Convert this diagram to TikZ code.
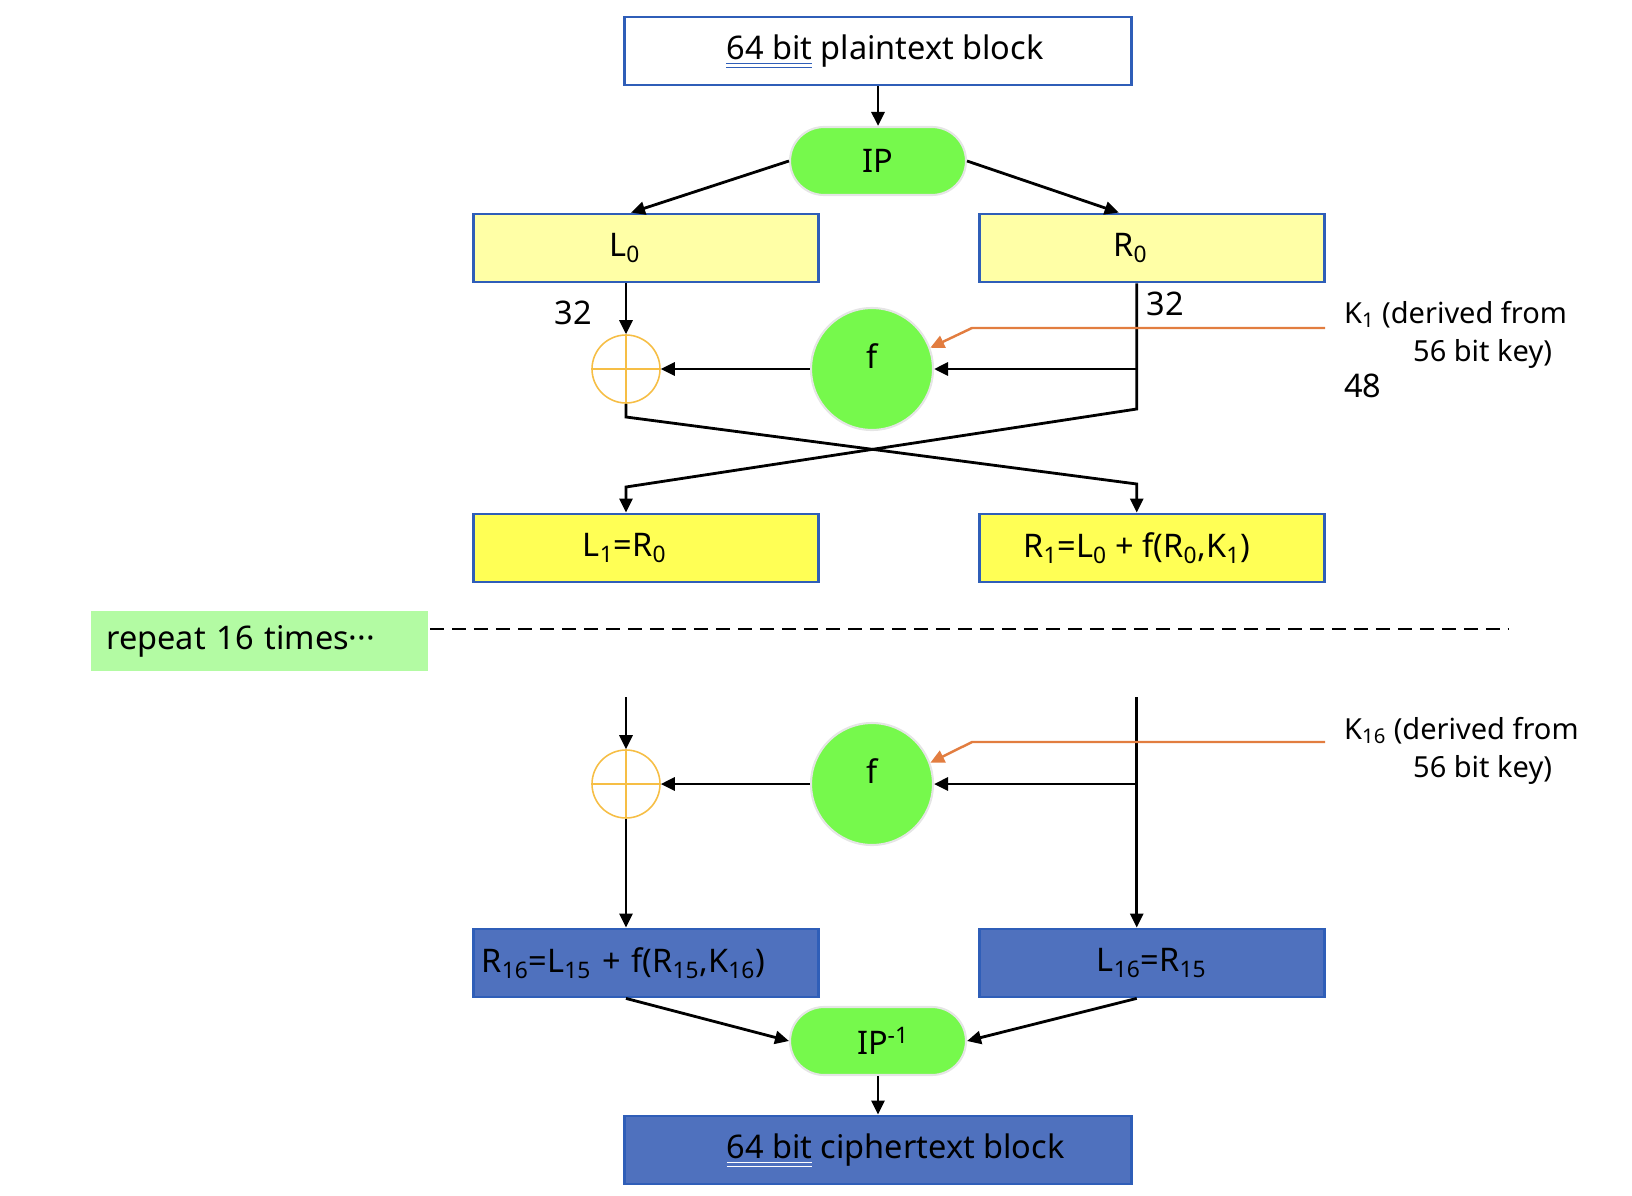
\documentclass[tikz,border=0pt]{standalone}
\usepackage{fontspec}
\setmainfont{Noto Sans}
\usetikzlibrary{arrows.meta,positioning}

\definecolor{boxblue}{HTML}{2F5EB8}
\definecolor{paleyellow}{HTML}{FFFFA6}
\definecolor{brightyellow}{HTML}{FFFF55}
\definecolor{cipherblue}{HTML}{4F71BE}
\definecolor{ipgreen}{HTML}{76F94C}
\definecolor{xororange}{HTML}{F6BE45}
\definecolor{keyorange}{HTML}{E27D40}
\definecolor{repeatgreen}{HTML}{B3FBA3}

% double line under "64 bit"
\newsavebox\ulbox
\newcommand\spellul[2]{\sbox\ulbox{#2}\rlap{\color{#1}\rule[-2.8pt]{\wd\ulbox}{0.6pt}}\rlap{\color{#1}\rule[-4.8pt]{\wd\ulbox}{0.6pt}}\usebox\ulbox}

\begin{document}
\begin{tikzpicture}[
  x=0.02cm, y=-0.02cm,
  node distance=3.16cm,
  font=\fontsize{18.5}{22}\selectfont,
  box/.style={rectangle, draw=boxblue, line width=1.6pt,
              minimum width=6.9cm, minimum height=1.36cm, inner sep=1pt},
  wide/.style={box, minimum width=10.14cm},
  pill/.style={rectangle, rounded corners=0.68cm, fill=ipgreen, draw=black!10,
               line width=1.2pt, minimum width=3.52cm, minimum height=1.36cm},
  fbox/.style={circle, fill=ipgreen, draw=black!10, line width=1.2pt,
               minimum size=2.44cm, inner sep=0pt},
  xorc/.style={circle, draw=xororange, line width=0.9pt, minimum size=1.36cm, inner sep=0pt},
  kl/.style={anchor=west, align=left, font=\fontsize{16.5}{22}\selectfont},
  arr/.style={-{Triangle[length=2.8mm,width=2.6mm]}, line width=1.6pt},
  karr/.style={-{Triangle[length=2.8mm,width=2.6mm]}, draw=keyorange, line width=1.4pt},
  sep/.style={dash pattern=on 0.28cm off 0.16cm, line width=0.9pt}
]
\useasboundingbox (0,0) rectangle (1632,1196);

% first round
\node[wide] (plain) at (878,51) {\hspace*{0.28cm}\spellul{boxblue}{64 bit} plaintext block};
\node[pill] (ip) at (878,161) {IP};
\node[box, fill=paleyellow] (l0) at (646,248) {L\textsubscript{0}\hspace*{0.85cm}};
\node[box, fill=paleyellow, right=of l0] (r0) {R\textsubscript{0}\hspace*{0.85cm}};
\node[xorc] (xor1) at (626,369) {};
\draw[xororange, line width=0.9pt] (xor1.north) -- (xor1.south) (xor1.west) -- (xor1.east);
\node[fbox] (f1) at (872,369) {\raisebox{0.52cm}{f}};
\node[box, fill=brightyellow] (l1) at (646,548) {L\textsubscript{1}=R\textsubscript{0}\hspace*{0.85cm}};
\node[box, fill=brightyellow, right=of l1] (r1) {R\textsubscript{1}=L\textsubscript{0} + f(R\textsubscript{0},K\textsubscript{1})\hspace*{0.6cm}};

\node (n32a) at (573,313) {32};
\node (n32b) at (1165,304) {32};
\node[kl] (k1) at (1338,335) {K\textsubscript{1} (derived from\\\hspace*{1.38cm}56 bit key)};
\node[anchor=west] (n48) at (1338,386) {48};

\draw[arr] (plain) -- (ip);
\draw[arr] (ip.west) -- ([xshift=-0.3cm]l0.north);
\draw[arr] (ip.east) -- ([xshift=-0.66cm]r0.north);
\draw[arr] (l0.south -| xor1) -- (xor1);
\draw[arr] (f1) -- (xor1);
\coordinate (r0out) at ([xshift=-0.3cm]r0.south);
\draw[arr] (r0out |- f1) -- (f1);
\draw[arr] (r0out) -- (r0out |- 0,409) -- (xor1 |- 0,487) -- (xor1 |- l1.north);
\draw[arr] (xor1.south) -- (xor1 |- 0,417) -- (r0out |- 0,484) -- (r0out |- r1.north);
\coordinate (k1end) at (1325,328);
\draw[karr] (k1end) -- ++(-353,0) -- (f1.20);

% repeat
\node[fill=repeatgreen, minimum height=1.2cm, text width=6.14cm, inner xsep=0.3cm,
      align=left, anchor=west] (rep) at (91,641) {repeat 16 times···};
\coordinate (dashL) at (430,629);
\coordinate (dashR) at (1509,629);
\draw[sep] (dashL) -- (dashR);

% last round
\node[xorc] (xor16) at (626,784) {};
\draw[xororange, line width=0.9pt] (xor16.north) -- (xor16.south) (xor16.west) -- (xor16.east);
\node[fbox] (f16) at (872,784) {\raisebox{0.52cm}{f}};
\node[box, fill=cipherblue, inner xsep=0.16cm, text width=6.58cm, align=left] (r16) at (646,963)
  {R\textsubscript{16}=L\textsubscript{15} + f(R\textsubscript{15},K\textsubscript{16})};
\node[box, fill=cipherblue, right=of r16] (l16) {L\textsubscript{16}=R\textsubscript{15}};
\node[pill] (ipinv) at (878,1041) {\hspace*{0.2cm}IP\textsuperscript{-1}};
\node[wide, fill=cipherblue] (cipher) at (878,1150) {\hspace*{0.7cm}\spellul{white}{64 bit} ciphertext block};
\node[kl] (k16) at (1338,751) {K\textsubscript{16} (derived from\\\hspace*{1.38cm}56 bit key)};

\coordinate (l15in) at (626,697);
\coordinate (r15in) at (r0out |- 0,697);
\draw[arr] (l15in) -- (xor16);
\draw[arr] (r15in) -- (r15in |- l16.north);
\draw[arr] (r15in |- f16) -- (f16);
\draw[arr] (f16) -- (xor16);
\draw[arr] (xor16) -- (xor16 |- r16.north);
\coordinate (k16end) at (1325,742);
\draw[karr] (k16end) -- ++(-353,0) -- (f16.20);
\draw[arr] (r16.south -| xor16) -- (ipinv.west);
\draw[arr] (r15in |- l16.south) -- (ipinv.east);
\draw[arr] (ipinv) -- (cipher);
\end{tikzpicture}
\end{document}
